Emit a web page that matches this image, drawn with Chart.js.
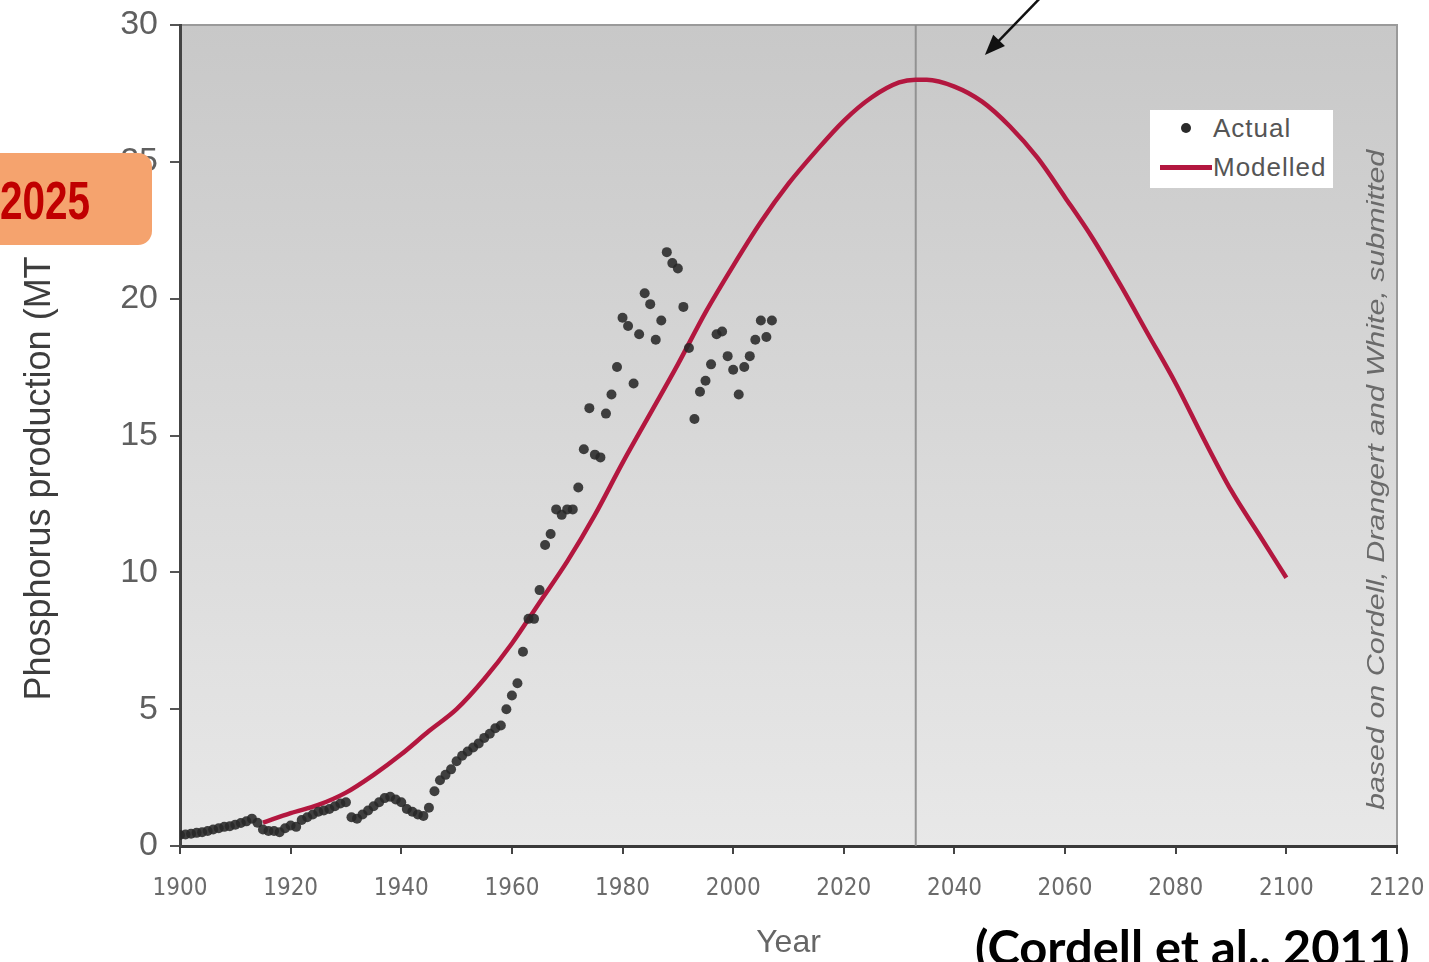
<!DOCTYPE html>
<html>
<head>
<meta charset="utf-8">
<title>Phosphorus production</title>
<script src="https://cdn.jsdelivr.net/npm/chart.js@4.4.1/dist/chart.umd.min.js"></script>
<style>
  html, body { margin: 0; padding: 0; background: #fff; }
  #wrap { position: relative; width: 1429px; height: 962px; overflow: hidden; }
  #phosChart { position: absolute; left: 0; top: 0; }

  .badge { position: absolute; left: -14px; top: 153px; width: 166px; height: 92px;
           background: #F5A36E; border-radius: 14px; }
  .badge-text { position: absolute; left: 0; top: 169px; height: 92px; line-height: 92px;
                font: bold 54px "Liberation Sans", Arial, sans-serif; color: #C00000;
                white-space: nowrap; transform-origin: left center; }

  .legend { position: absolute; left: 1150px; top: 110px; width: 183px; height: 78px; background: #fff; }
  .legend-item { position: absolute; white-space: nowrap; line-height: 30px;
                 font: 26px "Liberation Sans", Arial, sans-serif; color: #555; letter-spacing: 1px; }

  .note { position: absolute; left: 1027px; top: 465px; width: 700px; height: 30px; line-height: 30px;
          text-align: center; transform: rotate(-90deg); white-space: nowrap;
          font: italic 24px "Liberation Sans", Arial, sans-serif; color: #6a6a6a; }
  .note span { display: inline-block; }

  .cite { position: absolute; left: 975px; top: 918px; line-height: 52px; white-space: nowrap;
          font: bold 48px Lato, "Liberation Sans", sans-serif; color: #000; transform-origin: left center; }
</style>
</head>
<body>
<div id="wrap">
  <canvas id="phosChart" width="1429" height="962"></canvas>

  <div class="badge"></div>
  <div class="badge-text" id="badgeText">2025</div>

  <div class="legend"></div>
  <div style="position:absolute;left:1181px;top:123px;width:10px;height:10px;border-radius:50%;background:#2a2a2a;"></div>
  <div class="legend-item" style="left:1213px;top:113px;">Actual</div>
  <div style="position:absolute;left:1160px;top:165px;width:52px;height:5px;background:#B3173F;"></div>
  <div class="legend-item" style="left:1213px;top:152px;">Modelled</div>

  <div class="note"><span id="noteText">based on Cordell, Drangert and White, submitted</span></div>

  <div class="cite" id="citeText">(Cordell et al., 2011)</div>
</div>

<script>
// dữ liệu
const actualYears = [
  1900, 1901, 1902, 1903, 1904, 1905, 1906, 1907, 1908, 1909,
  1910, 1911, 1912, 1913, 1914, 1915, 1916, 1917, 1918, 1919,
  1920, 1921, 1922, 1923, 1924, 1925, 1926, 1927, 1928, 1929,
  1930, 1931, 1932, 1933, 1934, 1935, 1936, 1937, 1938, 1939,
  1940, 1941, 1942, 1943, 1944, 1945, 1946, 1947, 1948, 1949,
  1950, 1951, 1952, 1953, 1954, 1955, 1956, 1957, 1958, 1959,
  1960, 1961, 1962, 1963, 1964, 1965, 1966, 1967, 1968, 1969,
  1970, 1971, 1972, 1973, 1974, 1975, 1976, 1977, 1978, 1979,
  1980, 1981, 1982, 1983, 1984, 1985, 1986, 1987, 1988, 1989,
  1990, 1991, 1992, 1993, 1994, 1995, 1996, 1997, 1998, 1999,
  2000, 2001, 2002, 2003, 2004, 2005, 2006, 2007
];
const actualValues = [
  0.40, 0.42, 0.45, 0.48, 0.50, 0.55, 0.60, 0.65, 0.70, 0.72,
  0.78, 0.84, 0.90, 1.00, 0.85, 0.60, 0.55, 0.55, 0.50, 0.65,
  0.75, 0.70, 0.95, 1.05, 1.15, 1.25, 1.30, 1.35, 1.45, 1.55,
  1.60, 1.05, 1.00, 1.15, 1.30, 1.45, 1.60, 1.75, 1.80, 1.70,
  1.60, 1.35, 1.25, 1.15, 1.10, 1.40, 2.00, 2.40, 2.60, 2.80,
  3.10, 3.30, 3.45, 3.60, 3.75, 3.95, 4.10, 4.30, 4.40, 5.00,
  5.50, 5.95, 7.10, 8.30, 8.30, 9.35, 11.0, 11.4, 12.3, 12.1,
  12.3, 12.3, 13.1, 14.5, 16.0, 14.3, 14.2, 15.8, 16.5, 17.5,
  19.3, 19.0, 16.9, 18.7, 20.2, 19.8, 18.5, 19.2, 21.7, 21.3,
  21.1, 19.7, 18.2, 15.6, 16.6, 17.0, 17.6, 18.7, 18.8, 17.9,
  17.4, 16.5, 17.5, 17.9, 18.5, 19.2, 18.6, 19.2
];

const modelYears = [
  1915, 1920, 1925, 1930, 1935, 1940, 1945, 1950, 1955, 1960,
  1965, 1970, 1975, 1980, 1985, 1990, 1995, 2000, 2005, 2010,
  2015, 2020, 2025, 2030, 2033, 2035, 2040, 2045, 2050, 2055,
  2060, 2065, 2070, 2075, 2080, 2085, 2090, 2095, 2100
];
const modelValues = [
  0.85, 1.20, 1.50, 1.95, 2.60, 3.35, 4.20, 5.00, 6.10, 7.40,
  8.90, 10.4, 12.1, 14.0, 15.8, 17.6, 19.5, 21.2, 22.8, 24.2,
  25.4, 26.5, 27.35, 27.9, 28.0, 28.0, 27.75, 27.2, 26.3, 25.15,
  23.7, 22.2, 20.5, 18.7, 16.9, 14.9, 13.0, 11.4, 9.8
];

const xTicks = [1900, 1920, 1940, 1960, 1980, 2000, 2020, 2040, 2060, 2080, 2100, 2120];
const yTicks = [0, 5, 10, 15, 20, 25, 30];
const peakYear = 2033;

// nền xám chuyển màu cho vùng vẽ
const plotBackground = {
  id: "plotBackground",
  beforeDraw(chart) {
    const { ctx, chartArea } = chart;
    const { left, top, right, bottom } = chartArea;
    const g = ctx.createLinearGradient(0, top, 0, bottom);
    g.addColorStop(0, "#c8c8c8");
    g.addColorStop(1, "#e8e8e8");
    ctx.save();
    ctx.fillStyle = g;
    ctx.fillRect(left, top, right - left, bottom - top);
    ctx.strokeStyle = "#9a9a9a";
    ctx.lineWidth = 2;
    ctx.beginPath();
    ctx.moveTo(left, top);
    ctx.lineTo(right, top);
    ctx.lineTo(right, bottom);
    ctx.stroke();
    ctx.restore();
  },
  beforeDatasetsDraw(chart) {
    // đường dọc tại năm đỉnh
    const { ctx, chartArea, scales } = chart;
    const x = scales.x.getPixelForValue(peakYear);
    ctx.save();
    ctx.strokeStyle = "rgba(140,140,140,0.9)";
    ctx.lineWidth = 2;
    ctx.beginPath();
    ctx.moveTo(x, chartArea.top);
    ctx.lineTo(x, chartArea.bottom);
    ctx.stroke();
    ctx.restore();
  },
  afterDraw(chart) {
    // mũi tên chỉ vào đỉnh
    const { ctx, scales } = chart;
    const tipX = scales.x.getPixelForValue(2045.5);
    const tipY = scales.y.getPixelForValue(28.9);
    const tailX = scales.x.getPixelForValue(2057);
    const tailY = scales.y.getPixelForValue(31.3);
    const ang = Math.atan2(tipY - tailY, tipX - tailX);
    ctx.save();
    ctx.strokeStyle = "#111";
    ctx.fillStyle = "#111";
    ctx.lineWidth = 2.5;
    ctx.beginPath();
    ctx.moveTo(tailX, tailY);
    ctx.lineTo(tipX - 14 * Math.cos(ang), tipY - 14 * Math.sin(ang));
    ctx.stroke();
    ctx.beginPath();
    ctx.moveTo(tipX, tipY);
    ctx.lineTo(tipX - 22 * Math.cos(ang - 0.38), tipY - 22 * Math.sin(ang - 0.38));
    ctx.lineTo(tipX - 22 * Math.cos(ang + 0.38), tipY - 22 * Math.sin(ang + 0.38));
    ctx.closePath();
    ctx.fill();
    ctx.restore();
  }
};

const ctx = document.getElementById("phosChart").getContext("2d");

const chartData = {
  datasets: [
    {
      label: "Actual",
      data: actualYears.map((yr, i) => ({ x: yr, y: actualValues[i] })),
      showLine: false,
      pointRadius: 5,
      pointBackgroundColor: "rgba(40,40,40,0.88)",
      pointBorderWidth: 0,
    },
    {
      label: "Modelled",
      data: modelYears.map((yr, i) => ({ x: yr, y: modelValues[i] })),
      showLine: true,
      borderColor: "#B3173F",
      borderWidth: 4.5,
      pointRadius: 0,
      cubicInterpolationMode: "monotone",
    },
  ],
};

// bỏ phần đệm tự động để vùng vẽ khớp với hình gốc
function noLabelPadding(s) {
  s.paddingTop = 0;
  s.paddingBottom = 0;
  s.paddingLeft = 0;
  s.paddingRight = 0;
}

const config = {
  type: "scatter",
  data: chartData,
  options: {
    responsive: false,
    animation: false,
    layout: { padding: { left: 0, top: 25, right: 32, bottom: 0 } },
    plugins: {
      legend: { display: false },
      tooltip: { enabled: false },
    },
    scales: {
      x: {
        type: "linear",
        min: 1900,
        max: 2120,
        afterBuildTicks: (s) => { s.ticks = xTicks.map((v) => ({ value: v })); },
        afterFit: (s) => { s.height = 116; noLabelPadding(s); },
        ticks: {
          autoSkip: false,
          maxRotation: 0,
          padding: 20,
          color: "#6b6b6b",
          font: { family: "'Liberation Sans Narrow', 'DejaVu Sans Condensed', 'Liberation Sans', sans-serif", size: 24 },
          callback: (v) => String(v),
        },
        grid: { drawOnChartArea: false, drawTicks: true, tickLength: 8, color: "#444", lineWidth: 2 },
        border: { display: true, color: "#3a3a3a", width: 3 },
        title: {
          display: true,
          text: "Year",
          color: "#666",
          font: { family: "'Liberation Sans', Arial, sans-serif", size: 32, lineHeight: 1.2 },
          padding: { top: 0, bottom: 0 },
        },
      },
      y: {
        min: 0,
        max: 30,
        afterBuildTicks: (s) => { s.ticks = yTicks.map((v) => ({ value: v })); },
        afterFit: (s) => { s.width = 180; noLabelPadding(s); },
        ticks: {
          padding: 12,
          color: "#5f5f5f",
          font: { family: "'Liberation Sans', Arial, sans-serif", size: 34 },
        },
        grid: { drawOnChartArea: false, drawTicks: true, tickLength: 10, color: "#555", lineWidth: 2 },
        border: { display: true, color: "#444", width: 3 },
        title: {
          display: true,
          text: "Phosphorus production (MT P/yr)",
          color: "#3d3d3d",
          font: { family: "'Liberation Sans', Arial, sans-serif", size: 36, lineHeight: 1.2 },
          padding: { top: 18, bottom: 0 },
        },
      },
    },
  },
  plugins: [plotBackground],
};

const phosChart = new Chart(ctx, config);

// co giãn chữ theo bề rộng trong hình gốc
function fitWidth(el, target) {
  const w = el.offsetWidth;
  if (w > 0) el.style.transform = "scaleX(" + (target / w) + ")";
}
fitWidth(document.getElementById("badgeText"), 90);
fitWidth(document.getElementById("citeText"), 435);
fitWidth(document.getElementById("noteText"), 660);
</script>
</body>
</html>
